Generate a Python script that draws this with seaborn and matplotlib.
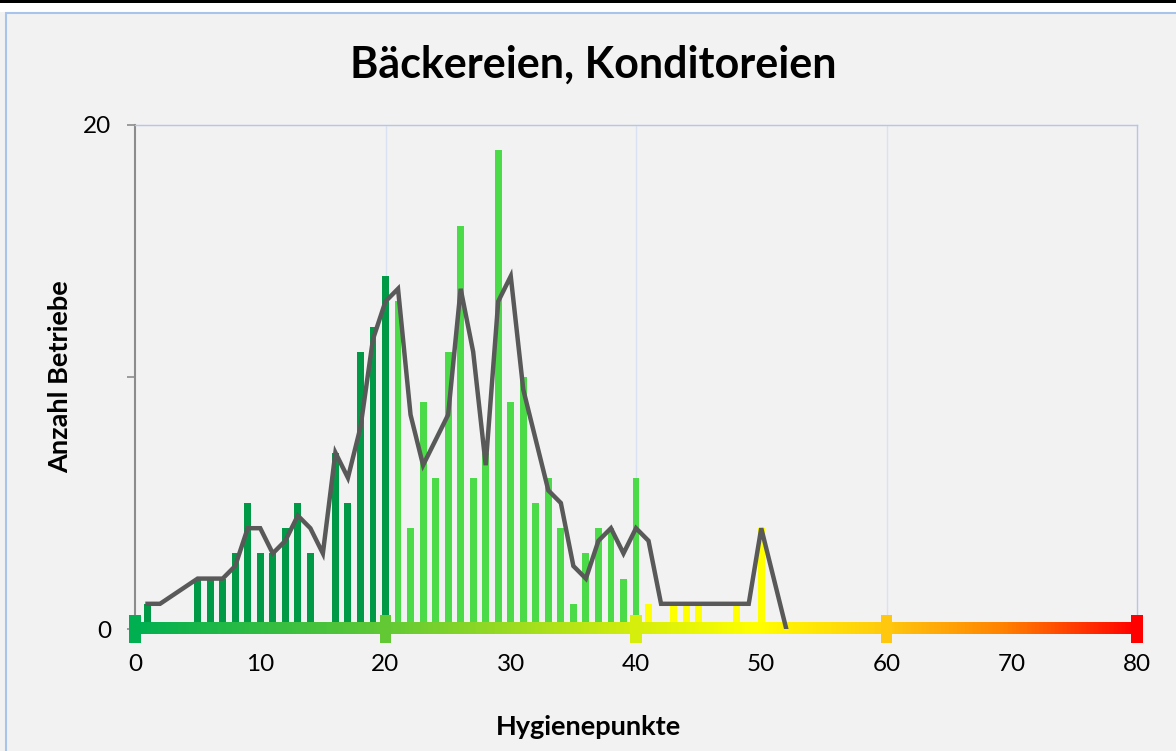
import matplotlib.pyplot as plt
import matplotlib.colors as mcolors
from matplotlib.patches import Rectangle
import numpy as np
import pandas as pd
import seaborn as sns

# Hygienepunkte und Anzahl Betriebe (Säulen)
punkte = [1, 5, 6, 7, 8, 9, 10, 11, 12, 13, 14, 16, 17, 18, 19, 20,
          21, 22, 23, 24, 25, 26, 27, 28, 29, 30, 31, 32, 33, 34, 35, 36, 37, 38, 39, 40,
          41, 43, 44, 45, 48, 50]
anzahl = [1, 2, 2, 2, 3, 5, 3, 3, 4, 5, 3, 7, 5, 11, 12, 14,
          13, 4, 9, 6, 11, 16, 6, 7, 19, 9, 10, 5, 6, 4, 1, 3, 4, 4, 2, 6,
          1, 1, 1, 1, 1, 4]

# gleitender Durchschnitt (Linie)
trend_x = [1, 2, 5, 6, 7, 8, 9, 10, 11, 12, 13, 14, 15, 16, 17, 18, 19, 20, 21, 22, 23, 24,
           25, 26, 27, 28, 29, 30, 31, 32, 33, 34, 35, 36, 37, 38, 39, 40, 41, 42, 49, 50, 52]
trend_y = [1, 1, 2, 2, 2, 2.5, 4, 4, 3, 3.5, 4.5, 4, 3, 7, 6, 8, 11.5, 13, 13.5, 8.5, 6.5, 7.5,
           8.5, 13.5, 11, 6.5, 13, 14, 9.5, 7.5, 5.5, 5, 2.5, 2, 3.5, 4, 3, 4, 3.5, 1, 1, 4, 0]

x_ticks = [0, 10, 20, 30, 40, 50, 60, 70, 80]
marker_pos = [0, 20, 40, 60, 80]

bg = '#F2F2F2'
plt.rcParams['font.family'] = ['Lato', 'DejaVu Sans']

fig = plt.figure(figsize=(11.76, 7.51), dpi=100, facecolor=bg)
W, H = 1176, 751

# Rahmen oben: schwarze Linie, weißer Streifen, hellblauer Diagrammrahmen
fig.patches.append(Rectangle((0, 1 - 12 / H), 1, 12 / H, transform=fig.transFigure,
                             facecolor='white', edgecolor='none', zorder=0))
fig.patches.append(Rectangle((0, 1 - 3 / H), 1, 3 / H, transform=fig.transFigure,
                             facecolor='black', edgecolor='none', zorder=1))
fig.patches.append(Rectangle((6 / W, -0.1), 1.2, 1 - 13 / H + 0.1, transform=fig.transFigure,
                             facecolor='none', edgecolor='#A9C4EB', lw=1.5, zorder=1))

ax = fig.add_axes([135 / W, 1 - 629 / H, (1137 - 135) / W, (629 - 125) / H])
ax.set_facecolor(bg)

df = pd.DataFrame({'punkte': punkte, 'anzahl': anzahl})
df['gruppe'] = np.where(df['punkte'] <= 20, 'a', np.where(df['punkte'] <= 40, 'b', 'c'))
pal = {'a': '#009A46', 'b': '#4CDB48', 'c': '#FFFF00'}

sns.barplot(data=df, x='punkte', y='anzahl', hue='gruppe', palette=pal, native_scale=True,
            dodge=False, width=0.55, errorbar=None, legend=False, saturation=1,
            ax=ax, zorder=2)
sns.lineplot(x=trend_x, y=trend_y, color='#595959', lw=3.2, ax=ax, zorder=5,
             solid_joinstyle='miter')

# Farbverlauf entlang der x-Achse
cmap = mcolors.LinearSegmentedColormap.from_list(
    'ampel', [(0, '#00B050'), (0.25, '#62C935'), (0.5, '#D4EE0C'), (0.62, '#FFFF00'),
              (0.75, '#FFC90E'), (0.87, '#FF8000'), (1, '#FF0000')])
grad = np.linspace(0, 1, 512).reshape(1, -1)
ax.imshow(grad, cmap=cmap, extent=(0, 80, -0.2, 0.25), aspect='auto', zorder=4,
          clip_on=False)
for p in marker_pos:
    ax.add_patch(Rectangle((p - 0.44, -0.55), 0.88, 1.1, facecolor=cmap(p / 80),
                           edgecolor='none', zorder=4, clip_on=False))

for g in [20, 40, 60]:
    ax.axvline(g, color='#D9E2F3', lw=1, zorder=1)

ax.set_xlim(0, 80)
ax.set_ylim(0, 20)
ax.set_xticks(x_ticks)
ax.set_xticklabels([str(t) for t in x_ticks])
ax.set_yticks([0, 20])
ax.set_yticks([10], minor=True)
ax.tick_params(axis='x', length=0, pad=18, labelsize=17.5)
ax.tick_params(axis='y', which='both', length=6, width=1.2, color='#8C8C8C', pad=11,
               labelsize=17.5)

for s in ['top', 'right']:
    ax.spines[s].set_color('#B4C7E7')
    ax.spines[s].set_linewidth(1)
ax.spines['bottom'].set_visible(False)
ax.spines['left'].set_color('#8C8C8C')
ax.spines['left'].set_linewidth(1.5)

ax.set_xlabel('')
ax.set_ylabel('')
fig.text(593 / W, 1 - 65 / H, 'Bäckereien, Konditoreien', ha='center', va='center',
         fontsize=31, fontweight='bold')
fig.text(589 / W, 1 - 727 / H, 'Hygienepunkte', ha='center', va='center',
         fontsize=19.5, fontweight='bold')
fig.text(60 / W, 1 - 377 / H, 'Anzahl Betriebe', ha='center', va='center',
         rotation=90, fontsize=19.5, fontweight='bold')

fig.savefig('out.png', dpi=100, facecolor=bg)
